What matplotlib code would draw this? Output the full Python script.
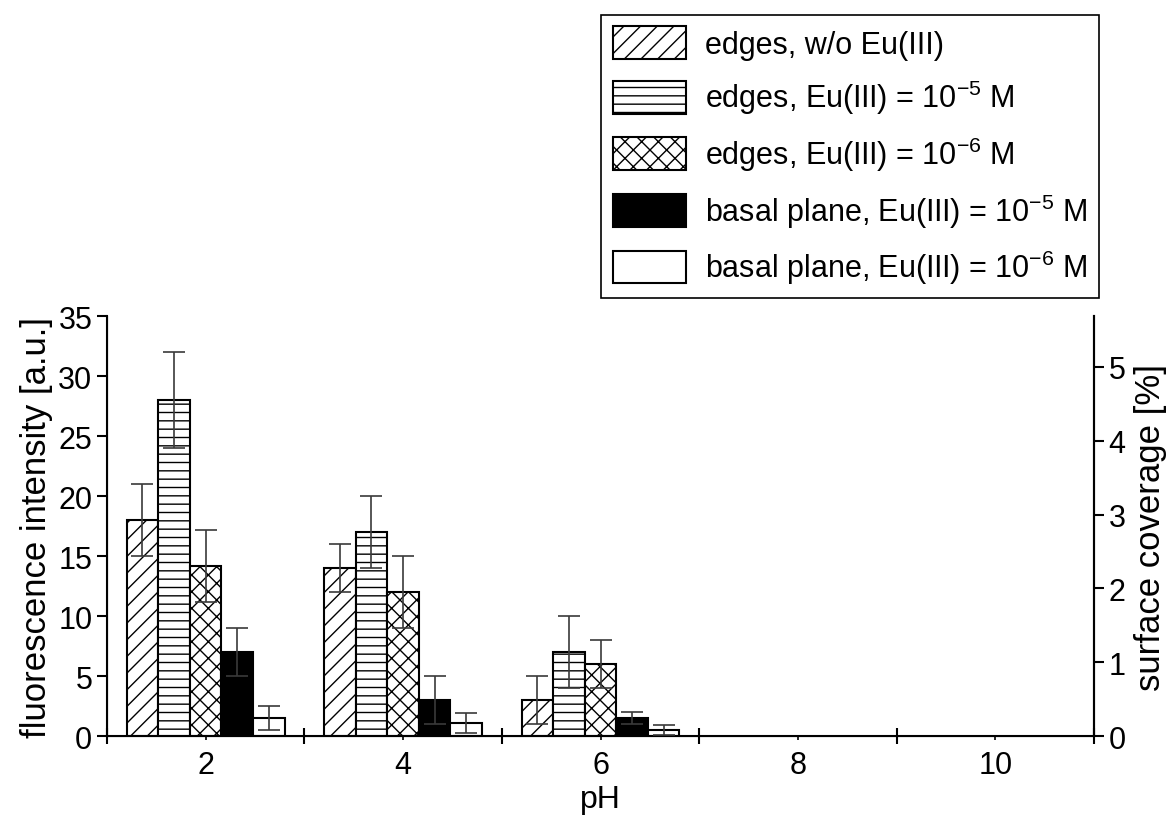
import numpy as np
import matplotlib
matplotlib.use("Agg")
import matplotlib.pyplot as plt

plt.rcParams['font.family'] = ['Liberation Sans', 'DejaVu Sans']
plt.rcParams['mathtext.default'] = 'regular'
plt.rcParams['hatch.linewidth'] = 1.0

# data
ph = np.array([2, 4, 6])
edges_wo = [18, 14, 3]
edges_wo_err = [3, 2, 2]
edges_e5 = [28, 17, 7]
edges_e5_err = [4, 3, 3]
edges_e6 = [14.2, 12, 6]
edges_e6_err = [3, 3, 2]
basal_e5 = [7, 3, 1.5]
basal_e5_err = [2, 2, 0.5]
basal_e6 = [1.5, 1.1, 0.5]
basal_e6_err = [1, 0.85, 0.4]

labels = ['edges, w/o Eu(III)',
          'edges, Eu(III) = 10$^{-5}$ M',
          'edges, Eu(III) = 10$^{-6}$ M',
          'basal plane, Eu(III) = 10$^{-5}$ M',
          'basal plane, Eu(III) = 10$^{-6}$ M']

series = [edges_wo, edges_e5, edges_e6, basal_e5, basal_e6]
errors = [edges_wo_err, edges_e5_err, edges_e6_err, basal_e5_err, basal_e6_err]
styles = [('white', '//'), ('white', '--'), ('white', 'xx'), ('black', None), ('white', None)]

fig = plt.figure(figsize=(11.74, 8.2), dpi=100)
ax = fig.add_axes([0.0911, 0.1012, 0.8408, 0.5122])

width = 0.32
offsets = np.array([-2, -1, 0, 1, 2]) * width
handles = []
for vals, errs, (fc, hatch), off, lab in zip(series, errors, styles, offsets, labels):
    b = ax.bar(ph + off, vals, width=width, facecolor=fc, edgecolor='black',
               hatch=hatch, linewidth=1.5, label=lab, zorder=2)
    ax.errorbar(ph + off, vals, yerr=errs, fmt='none', ecolor='#3a3a3a',
                elinewidth=1.2, capsize=8, capthick=1.2, zorder=3)
    handles.append(b)

ax.set_xlim(1, 11)
ax.set_ylim(0, 35)
ax.set_yticks(np.arange(0, 36, 5))
ax.set_xticks([2, 4, 6, 8, 10])
ax.set_xticks([1, 3, 5, 7, 9, 11], minor=True)
ax.tick_params(axis='x', which='major', direction='out', length=3, width=1.2,
               labelsize=22, pad=7)
ax.tick_params(axis='x', which='minor', direction='inout', length=12, width=1.5)
ax.tick_params(axis='y', direction='out', length=7, width=1.5, labelsize=22)

ax.spines['top'].set_visible(False)
for s in ['left', 'right', 'bottom']:
    ax.spines[s].set_linewidth(1.5)

ax.set_xlabel('pH', fontsize=23, labelpad=3)
ax.set_ylabel('fluorescence intensity [a.u.]', fontsize=25, labelpad=4)

ax2 = ax.twinx()
ax2.set_ylim(0, 5.69)
ax2.set_yticks([0, 1, 2, 3, 4, 5])
ax2.tick_params(axis='y', direction='out', length=7, width=1.5, labelsize=22)
ax2.spines['top'].set_visible(False)
ax2.spines['right'].set_linewidth(1.5)
ax2.set_ylabel('surface coverage [%]', fontsize=25, labelpad=6)

leg = fig.legend(handles=handles, loc='upper right', bbox_to_anchor=(0.936, 0.981),
                 fontsize=22, frameon=True, fancybox=False, framealpha=1,
                 edgecolor='black', handlelength=2.4, handleheight=1.27,
                 labelspacing=0.6, handletextpad=0.6, borderpad=0.38,
                 borderaxespad=0)
leg.get_frame().set_linewidth(1.2)

fig.savefig('out.png', dpi=100)
